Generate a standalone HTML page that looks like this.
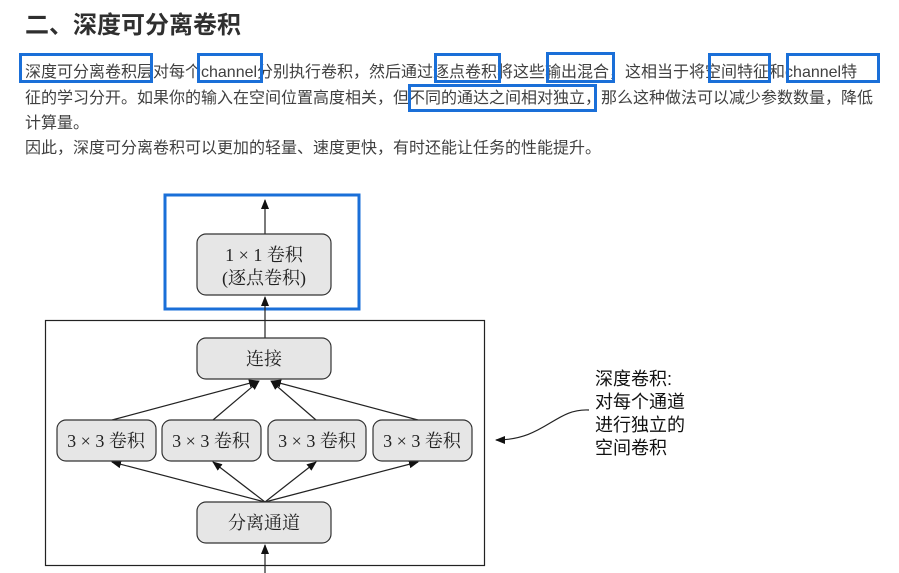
<!DOCTYPE html>
<html><head><meta charset="utf-8"><style>
body{margin:0;width:899px;height:573px;background:#fff;position:relative;overflow:hidden;font-family:"Liberation Sans","Noto Sans CJK SC",sans-serif;color:#333}
.h{position:absolute;left:25px;top:5px;font-size:24px;font-weight:bold;color:#2f2f2f}
.l{position:absolute;left:25px;font-size:16px;white-space:nowrap;color:#404040;letter-spacing:0}
.b{position:absolute;border:3px solid #1a6fd8;box-sizing:border-box}
</style></head><body>
<div class="h">二、深度可分离卷积</div>
<div class="l" style="top:58px">深度可分离卷积层对每个channel分别执行卷积，然后通过逐点卷积将这些输出混合，这相当于将空间特征和channel特</div>
<div class="l" style="top:84px">征的学习分开。如果你的输入在空间位置高度相关，但不同的通达之间相对独立，那么这种做法可以减少参数数量，降低</div>
<div class="l" style="top:109px">计算量。</div>
<div class="l" style="top:134px">因此，深度可分离卷积可以更加的轻量、速度更快，有时还能让任务的性能提升。</div>
<div class="b" style="left:19px;top:53px;width:134px;height:30px"></div>
<div class="b" style="left:197px;top:53px;width:66px;height:30px"></div>
<div class="b" style="left:434px;top:53px;width:67px;height:30px"></div>
<div class="b" style="left:546px;top:52px;width:69px;height:31px"></div>
<div class="b" style="left:708px;top:53px;width:63px;height:30px"></div>
<div class="b" style="left:786px;top:53px;width:94px;height:30px"></div>
<div class="b" style="left:408px;top:84px;width:189px;height:28px"></div>
<svg width="899" height="573" style="position:absolute;left:0;top:0" font-family="Liberation Serif,Noto Serif CJK SC,serif">
<defs><marker id="a" markerWidth="10" markerHeight="8" refX="9" refY="4" orient="auto" markerUnits="userSpaceOnUse"><path d="M0,0L10,4L0,8z" fill="#111"/></marker></defs>
<rect x="165" y="195" width="194" height="114" fill="none" stroke="#1a6fd8" stroke-width="3"/>
<rect x="45.5" y="320.5" width="439" height="245" fill="none" stroke="#222" stroke-width="1.2"/>
<g stroke="#222" stroke-width="1.2" fill="none">
<line x1="265" y1="234" x2="265" y2="200" marker-end="url(#a)"/>
<line x1="265" y1="338" x2="265" y2="297" marker-end="url(#a)"/>
<line x1="265" y1="573" x2="265" y2="545" marker-end="url(#a)"/>
<line x1="112" y1="420" x2="258" y2="381" marker-end="url(#a)"/>
<line x1="213" y1="420" x2="259" y2="381" marker-end="url(#a)"/>
<line x1="316" y1="420" x2="271" y2="381" marker-end="url(#a)"/>
<line x1="418" y1="420" x2="272" y2="381" marker-end="url(#a)"/>
<line x1="265" y1="502" x2="112" y2="462" marker-end="url(#a)"/>
<line x1="265" y1="502" x2="213" y2="462" marker-end="url(#a)"/>
<line x1="265" y1="502" x2="316" y2="462" marker-end="url(#a)"/>
<line x1="265" y1="502" x2="418" y2="462" marker-end="url(#a)"/>
<path d="M589,410 C555,408 545,440 496,440" marker-end="url(#a)"/>
</g>
<g fill="#e6e6e6" stroke="#333" stroke-width="1.2">
<rect x="197" y="234" width="134" height="61" rx="9"/>
<rect x="197" y="338" width="134" height="41" rx="9"/>
<rect x="57" y="420" width="99" height="41" rx="9"/>
<rect x="162" y="420" width="99" height="41" rx="9"/>
<rect x="268" y="420" width="98" height="41" rx="9"/>
<rect x="373" y="420" width="99" height="41" rx="9"/>
<rect x="197" y="502" width="134" height="41" rx="9"/>
</g>
<g fill="#222" font-size="18" text-anchor="middle">
<text x="264" y="261">1 × 1 卷积</text>
<text x="264" y="284">(逐点卷积)</text>
<text x="264" y="365">连接</text>
<text x="106" y="447">3 × 3 卷积</text>
<text x="211" y="447">3 × 3 卷积</text>
<text x="317" y="447">3 × 3 卷积</text>
<text x="422" y="447">3 × 3 卷积</text>
<text x="264" y="529">分离通道</text>
</g>
<g fill="#111" font-size="18" font-family="Liberation Sans,Noto Sans CJK SC,sans-serif">
<text x="595" y="385">深度卷积:</text>
<text x="595" y="408">对每个通道</text>
<text x="595" y="431">进行独立的</text>
<text x="595" y="454">空间卷积</text>
</g>
</svg>
</body></html>
